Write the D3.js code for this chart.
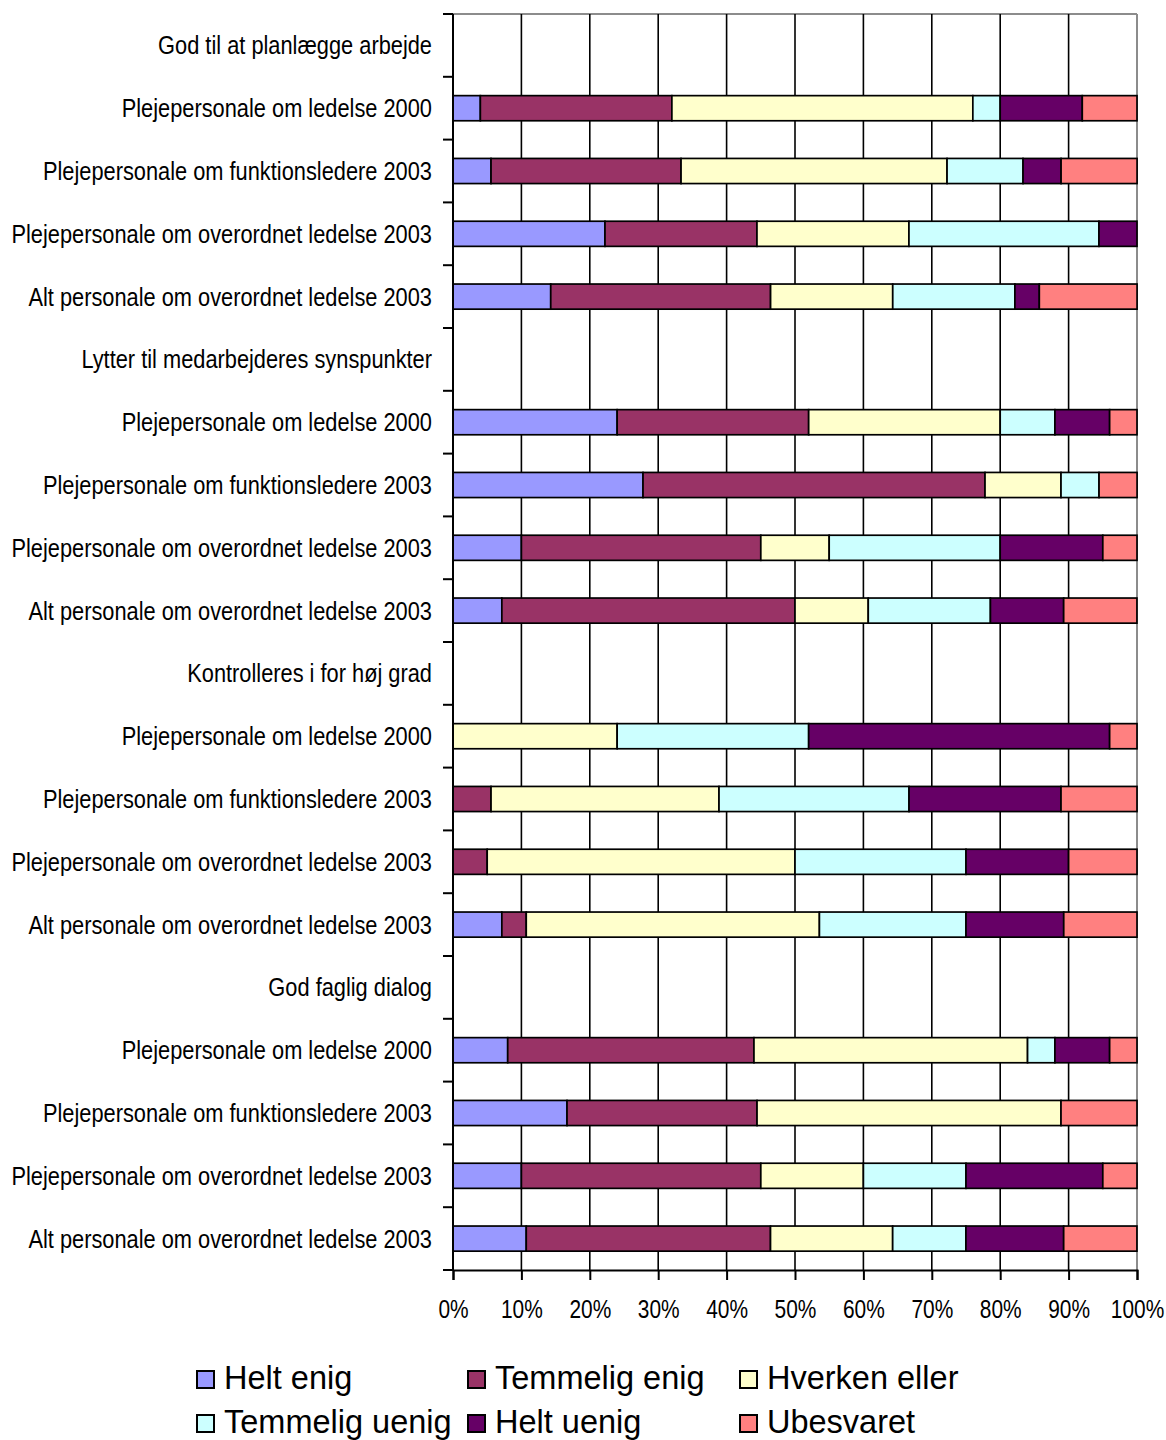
<!DOCTYPE html>
<html>
<head>
<meta charset="utf-8">
<script src="https://cdn.jsdelivr.net/npm/d3@7"></script>
<style>
  html, body { margin: 0; padding: 0; background: #fff; }
  svg { display: block; }
</style>
</head>
<body>
<svg id="chart" width="1166" height="1440"></svg>
<script>
// Category rows, top to bottom (group headers have no bars)
const categories = [
  "God til at planlægge arbejde",
  "Plejepersonale om ledelse 2000",
  "Plejepersonale om funktionsledere 2003",
  "Plejepersonale om overordnet ledelse 2003",
  "Alt personale om overordnet ledelse 2003",
  "Lytter til medarbejderes synspunkter",
  "Plejepersonale om ledelse 2000",
  "Plejepersonale om funktionsledere 2003",
  "Plejepersonale om overordnet ledelse 2003",
  "Alt personale om overordnet ledelse 2003",
  "Kontrolleres i for høj grad",
  "Plejepersonale om ledelse 2000",
  "Plejepersonale om funktionsledere 2003",
  "Plejepersonale om overordnet ledelse 2003",
  "Alt personale om overordnet ledelse 2003",
  "God faglig dialog",
  "Plejepersonale om ledelse 2000",
  "Plejepersonale om funktionsledere 2003",
  "Plejepersonale om overordnet ledelse 2003",
  "Alt personale om overordnet ledelse 2003"
];

const seriesNames = ["Helt enig", "Temmelig enig", "Hverken eller", "Temmelig uenig", "Helt uenig", "Ubesvaret"];
const seriesColors = ["#9999FF", "#993366", "#FFFFCC", "#CCFFFF", "#660066", "#FF8080"];

// Answer shares in percent, one entry per category row
const heltEnig      = [0, 4, 5.56, 22.22, 14.29, 0, 24, 27.78, 10, 7.14, 0, 0, 0, 0, 7.14, 0, 8, 16.67, 10, 10.71];
const temmeligEnig  = [0, 28, 27.78, 22.22, 32.14, 0, 28, 50, 35, 42.86, 0, 0, 5.56, 5, 3.57, 0, 36, 27.78, 35, 35.71];
const hverkenEller  = [0, 44, 38.89, 22.22, 17.86, 0, 28, 11.11, 10, 10.71, 0, 24, 33.33, 45, 42.86, 0, 40, 44.44, 15, 17.86];
const temmeligUenig = [0, 4, 11.11, 27.78, 17.86, 0, 8, 5.56, 25, 17.86, 0, 28, 27.78, 25, 21.43, 0, 4, 0, 15, 10.71];
const heltUenig     = [0, 12, 5.56, 5.56, 3.57, 0, 8, 0, 15, 10.71, 0, 44, 22.22, 15, 14.29, 0, 8, 0, 20, 14.29];
const ubesvaret     = [0, 8, 11.11, 0, 14.29, 0, 4, 5.56, 5, 10.71, 0, 4, 11.11, 10, 10.71, 0, 4, 11.11, 5, 10.71];

const xTicks = [0, 10, 20, 30, 40, 50, 60, 70, 80, 90, 100];

const seriesValues = [heltEnig, temmeligEnig, hverkenEller, temmeligUenig, heltUenig, ubesvaret];

// Row table for d3.stack
const rows = categories.map((c, i) => {
  const r = { idx: i, label: c };
  seriesNames.forEach((s, k) => { r[s] = seriesValues[k][i]; });
  return r;
});

// Narrow sans check: use Liberation Sans Narrow if present, otherwise squeeze regular sans
const ctx = document.createElement("canvas").getContext("2d");
ctx.font = '26px "Liberation Sans Narrow", monospace';
const wNarrow = ctx.measureText("Plejepersonale om ledelse 2000").width;
ctx.font = '26px "Liberation Sans", monospace';
const wRegular = ctx.measureText("Plejepersonale om ledelse 2000").width;
const hasNarrow = wNarrow < wRegular * 0.95;
const narrowFamily = hasNarrow ? '"Liberation Sans Narrow", "Arial Narrow", sans-serif' : '"Liberation Sans", Arial, sans-serif';
const squeeze = hasNarrow ? 1 : 0.82;

const plotLeft = 453, plotRight = 1137, plotTop = 14, plotBottom = 1270;

const svg = d3.select("#chart");

const x = d3.scaleLinear().domain([0, 100]).range([plotLeft, plotRight]);
const y = d3.scaleBand().domain(d3.range(categories.length)).range([plotTop, plotBottom]).padding(0);
const bw = y.bandwidth();
const color = d3.scaleOrdinal().domain(seriesNames).range(seriesColors);

// Plot frame (top and right edges in grey)
svg.append("line").attr("x1", plotLeft).attr("x2", plotRight).attr("y1", plotTop).attr("y2", plotTop)
  .attr("stroke", "#8c8c8c").attr("stroke-width", 2);
svg.append("line").attr("x1", plotRight).attr("x2", plotRight).attr("y1", plotTop).attr("y2", plotBottom)
  .attr("stroke", "#8c8c8c").attr("stroke-width", 2);

// Vertical gridlines
svg.append("g").selectAll("line")
  .data(xTicks.filter(t => t > 0 && t < 100))
  .join("line")
  .attr("x1", d => x(d)).attr("x2", d => x(d))
  .attr("y1", plotTop).attr("y2", plotBottom)
  .attr("stroke", "#000").attr("stroke-width", 1.6);

// Stacked bars
const stack = d3.stack().keys(seriesNames);
const layers = stack(rows);

svg.append("g").selectAll("g")
  .data(layers)
  .join("g")
  .attr("fill", d => color(d.key))
  .selectAll("rect")
  .data(d => d.filter(p => p[1] - p[0] > 0))
  .join("rect")
  .attr("x", d => x(d[0]))
  .attr("width", d => x(d[1]) - x(d[0]))
  .attr("y", d => y(d.data.idx) + bw * 0.3)
  .attr("height", bw * 0.4)
  .attr("stroke", "#000")
  .attr("stroke-width", 1.7);

// Left axis with ticks at row boundaries
const yBoundaries = d3.range(categories.length + 1).map(i => plotTop + i * bw);
svg.append("line").attr("x1", plotLeft).attr("x2", plotLeft).attr("y1", plotTop).attr("y2", plotBottom)
  .attr("stroke", "#000").attr("stroke-width", 2);
svg.append("g").selectAll("line")
  .data(yBoundaries)
  .join("line")
  .attr("x1", plotLeft - 10).attr("x2", plotLeft)
  .attr("y1", d => d).attr("y2", d => d)
  .attr("stroke", "#000").attr("stroke-width", 2);

// Category labels
svg.append("g").selectAll("text")
  .data(categories)
  .join("text")
  .attr("transform", (d, i) => `translate(432,${y(i) + bw / 2 + 9}) scale(${squeeze},1)`)
  .attr("text-anchor", "end")
  .attr("font-family", narrowFamily)
  .attr("font-size", 26.6)
  .attr("fill", "#000")
  .text(d => d);

// Bottom axis
const xAxis = d3.axisBottom(x)
  .tickValues(xTicks)
  .tickSize(10)
  .tickFormat(d => d + "%");
const gx = svg.append("g").attr("transform", `translate(0,${plotBottom})`).call(xAxis);
gx.select(".domain").attr("stroke", "#000").attr("stroke-width", 2);
gx.selectAll(".tick line").attr("stroke", "#000").attr("stroke-width", 2);
gx.selectAll(".tick text")
  .attr("y", 0).attr("dy", 0)
  .attr("transform", `translate(0,48) scale(${squeeze},1)`)
  .attr("font-family", narrowFamily)
  .attr("font-size", 25.5)
  .attr("fill", "#000");

// Legend
const legendCols = [196, 467, 739];
const legendRows = [1389, 1433];
const legend = svg.append("g").selectAll("g")
  .data(seriesNames)
  .join("g")
  .attr("transform", (d, i) => `translate(${legendCols[i % 3]},${legendRows[Math.floor(i / 3)]})`);
legend.append("rect")
  .attr("x", 1).attr("y", -18).attr("width", 17).attr("height", 17)
  .attr("fill", d => color(d))
  .attr("stroke", "#000").attr("stroke-width", 2);
legend.append("text")
  .attr("x", 28).attr("y", 0)
  .attr("font-family", '"Liberation Sans", Arial, sans-serif')
  .attr("font-size", 32.5)
  .attr("fill", "#000")
  .text(d => d);
</script>
</body>
</html>
